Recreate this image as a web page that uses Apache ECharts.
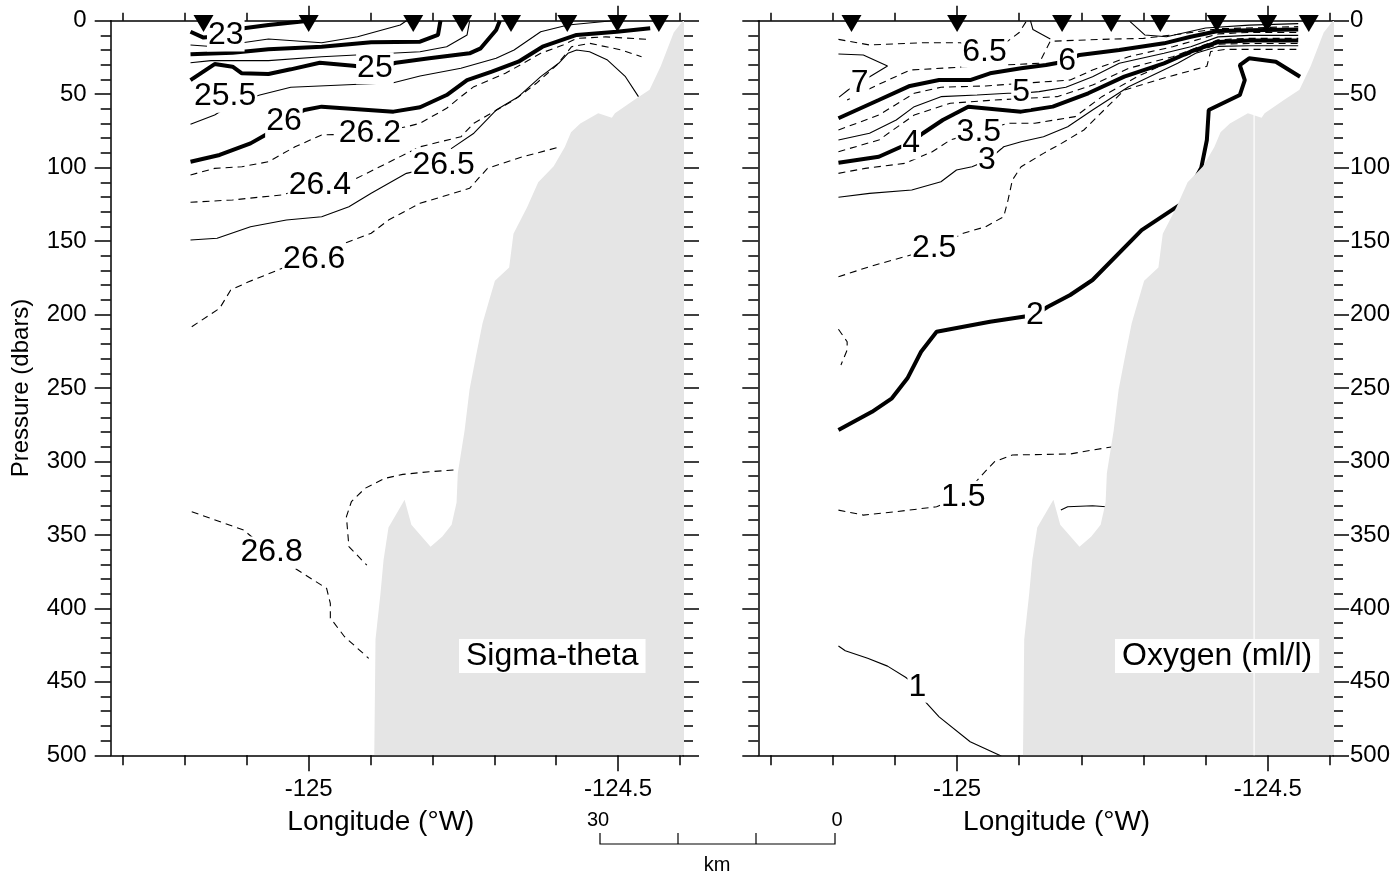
<!DOCTYPE html>
<html><head><meta charset="utf-8">
<script src="https://cdn.jsdelivr.net/npm/echarts@6/dist/echarts.min.js"></script>
<style>html,body{margin:0;padding:0;background:#fff}#c{width:1397px;height:878px}</style>
</head><body><div id="c"></div>
<script>
const F = 'Liberation Sans, Arial, Helvetica, sans-serif';
// axis extents and tick values
const LON_MIN = -125.32, LON_MAX = -124.395;
const majorLon = [-125, -124.5];
const minorLon = [-125.3, -125.2, -125.1, -124.9, -124.8, -124.7, -124.6, -124.4];
// CTD stations (longitude)
const stations = [-125.17, -125.0, -124.831, -124.752, -124.673, -124.582, -124.501, -124.434];
// bottom topography [lon, pressure]
const bathy = [[-124.894,500],[-124.892,421],[-124.884,390],[-124.879,367],[-124.871,345],[-124.845,326],[-124.834,343],
  [-124.803,358],[-124.784,351],[-124.769,343],[-124.761,328],[-124.759,308],[-124.748,279],[-124.740,251],[-124.730,229],
  [-124.719,206],[-124.708,190],[-124.699,177],[-124.676,168],[-124.669,145],[-124.647,127],[-124.629,110],[-124.604,99],
  [-124.586,86],[-124.576,76],[-124.561,70],[-124.532,63],[-124.510,66],[-124.505,63],[-124.474,54],[-124.449,47],
  [-124.431,31],[-124.410,8],[-124.395,0]];
const bathyGap = [[-124.522,63],[-124.522,500]];

// ---- Sigma-theta contours [lon, pressure] ----
const sig23   = [[-125.191,7.5],[-125.170,11.5],[-125.134,10],[-125.105,5.2],[-125.065,2.9],[-125.015,0.7],[-125.0,0]];
const sig23_5 = [[-125.191,16.5],[-125.152,17.7],[-125.065,12.5],[-124.979,15],[-124.921,10.9],[-124.852,2.9],[-124.842,0]];
const sig24   = [[-125.191,22.9],[-125.123,21.8],[-125.065,19.5],[-124.979,17.7],[-124.899,14.7],[-124.820,14.3],[-124.791,9.7],[-124.787,0]];
const sig24_5 = [[-125.191,28.6],[-125.158,27.2],[-125.065,27.2],[-124.979,24.5],[-124.820,21.1],[-124.777,17.7],[-124.744,9.7],[-124.740,0.5]];
const sig25   = [[-125.191,40.4],[-125.152,29.5],[-125.123,31.3],[-125.108,35.8],[-125.065,36.3],[-125.029,33.1],[-124.982,28.6],
  [-124.928,30.6],[-124.895,32.4],[-124.859,28.6],[-124.805,25.6],[-124.740,22.2],[-124.722,18.8],[-124.697,6.3],[-124.691,0]];
const sig25_5 = [[-125.191,70.5],[-125.152,64.2],[-125.130,58.5],[-125.105,54],[-125.079,50.6],[-125.029,45.3],[-124.863,42.2],
  [-124.820,37.6],[-124.754,32.4],[-124.697,25.6],[-124.668,19.9],[-124.625,7.5],[-124.581,2.9],[-124.509,0]];
const sig26   = [[-125.191,96],[-125.144,91.4],[-125.094,83.5],[-125.065,76.6],[-125.044,68.7],[-125.007,60.8],[-124.979,58.5],
  [-124.863,61.9],[-124.820,58.9],[-124.777,50.6],[-124.744,40.4],[-124.704,34.7],[-124.661,27.9],[-124.622,17.7],
  [-124.567,9.7],[-124.502,7.5],[-124.448,5.2]];
const sig26_2 = [[-125.191,105],[-125.152,100.5],[-125.108,99.4],[-125.065,96],[-125.022,85.8],[-124.979,77.8],[-124.899,76.6],
  [-124.842,72.2],[-124.820,69.8],[-124.777,59.6],[-124.754,51.7],[-124.733,44.9],[-124.682,35.8],[-124.625,22.2],
  [-124.589,16.5],[-124.567,12],[-124.52,11],[-124.452,12.7]];
const sig26_4 = [[-125.191,123.6],[-125.123,122],[-125.044,118.6],[-124.982,111.8],[-124.928,108.4],[-124.820,85.8],[-124.754,79],
  [-124.733,69.8],[-124.668,54],[-124.632,42.6],[-124.599,30.2],[-124.575,17.7],[-124.546,15.4],[-124.495,19.9],[-124.462,24.5]];
const sig26_5 = [[-125.191,149.3],[-125.148,148.1],[-125.094,140.2],[-125.036,135.7],[-124.979,133.4],[-124.935,126.6],[-124.899,117.5],
  [-124.842,103.9],[-124.782,98.2],[-124.769,86.9],[-124.733,76.6],[-124.697,60.8],[-124.661,51.7],[-124.625,38.1],
  [-124.596,29],[-124.581,22.2],[-124.567,19.9],[-124.546,21.1],[-124.517,26.8],[-124.488,38.1],[-124.467,51.7]];
const sig26_6 = [[-125.189,208.3],[-125.144,195.8],[-125.126,183.3],[-125.097,177.7],[-125.036,167.4],[-124.993,162.9],[-124.950,152.7],
  [-124.899,144.7],[-124.871,135.7],[-124.820,124.3],[-124.740,114.1],[-124.711,100.5],[-124.654,92.6],[-124.593,85.8]];
const sig26_8a = [[-125.189,334.2],[-125.105,346.7],[-125.061,362.3],[-125.026,371.7],[-124.971,386.4],[-124.965,396.6],
  [-124.965,406.6],[-124.942,419.3],[-124.903,434]];
const sig26_8b = [[-124.766,305.8],[-124.805,307],[-124.848,308.8],[-124.877,311.5],[-124.909,318.3],[-124.931,327.4],
  [-124.939,337.6],[-124.935,358],[-124.906,370.6]];
const sigLabels = [['23',-125.134,10],['25',-124.893,32.4],['25.5',-125.135,51.7],['26',-125.040,68.7],['26.2',-124.901,76.6],
  ['26.4',-124.982,112],['26.5',-124.782,98.2],['26.6',-124.991,162.2],['26.8',-125.060,362]];

// ---- Oxygen contours [lon, pressure] ----
const oxy7    = [[-125.191,22.7],[-125.151,23.3],[-125.112,30.8],[-125.140,38],[-125.175,47],[-125.19,52]];
const oxy7b   = [[-124.882,0],[-124.878,6],[-124.850,12.5]];
const oxy7c   = [[-124.722,0.5],[-124.698,9.7],[-124.663,10.9],[-124.60,5],[-124.53,3],[-124.451,2]];
const oxy6_5a = [[-125.191,12.7],[-125.141,16.5],[-125.055,15],[-124.995,15],[-124.956,19],[-124.925,16],[-124.900,8],[-124.888,0]];
const oxy6_5b = [[-125.177,54],[-125.134,44.9],[-125.076,33.6],[-124.982,31.3],[-124.868,29],[-124.850,14],[-124.767,12.7],
  [-124.70,12],[-124.64,9],[-124.58,5.5],[-124.451,4]];
const oxy6    = [[-125.191,66.4],[-125.126,54],[-125.076,44.4],[-125.029,40.4],[-124.979,40.4],[-124.947,35.8],[-124.897,32.4],
  [-124.857,30.2],[-124.828,27.9],[-124.803,23.3],[-124.739,19.9],[-124.667,15.4],[-124.624,10.9],[-124.580,7],[-124.53,6.5],[-124.451,6]];
const oxy5_5  = [[-125.191,74.4],[-125.126,64.2],[-125.069,49.4],[-125.026,45.3],[-124.954,44.4],[-124.818,40.4],[-124.782,33.6],
  [-124.724,24.5],[-124.653,17.7],[-124.580,9],[-124.53,8],[-124.451,8]];
const oxy5    = [[-125.191,81.2],[-125.141,76.6],[-125.098,67.6],[-125.069,58.5],[-125.026,51.7],[-124.968,50.6],[-124.918,49.4],
  [-124.897,49.4],[-124.868,48.3],[-124.825,45.3],[-124.782,38.1],[-124.739,29],[-124.667,22.2],[-124.624,17.7],[-124.580,11],[-124.53,10],[-124.451,10]];
const oxy4_5  = [[-125.191,89.2],[-125.126,81.2],[-125.069,64.2],[-125.011,56.2],[-124.940,54],[-124.839,51.7],[-124.782,43.8],
  [-124.724,32.4],[-124.653,24.5],[-124.580,13],[-124.53,12],[-124.451,12]];
const oxy4    = [[-125.191,96.7],[-125.126,92.6],[-125.090,85.8],[-125.076,83.5],[-125.055,76.6],[-125.023,67.6],[-124.982,58.5],
  [-124.897,61.9],[-124.846,58.5],[-124.789,49.4],[-124.731,38.1],[-124.667,29],[-124.624,21.1],[-124.580,14.5],[-124.53,13.5],[-124.451,13.5]];
const oxy3_5  = [[-125.191,103.9],[-125.148,100.5],[-125.084,97.1],[-125.040,89.2],[-125.011,81.2],[-124.965,75.6],[-124.918,69.8],
  [-124.875,69.8],[-124.810,65.3],[-124.767,51.7],[-124.710,38.1],[-124.653,26.8],[-124.580,16],[-124.53,15.5],[-124.451,15.5]];
const oxy3    = [[-125.191,120.2],[-125.141,117.5],[-125.073,115.2],[-125.026,109.6],[-125.001,101.6],[-124.976,99.4],[-124.950,94.8],
  [-124.925,85.8],[-124.897,82.4],[-124.861,79],[-124.822,72.2],[-124.782,60.8],[-124.724,44.9],[-124.645,29],[-124.616,22.2],
  [-124.580,17.5],[-124.53,17],[-124.451,17]];
const oxy2_5  = [[-125.191,174.3],[-125.141,167.4],[-125.084,160.6],[-125.037,154.9],[-124.990,144.7],[-124.954,140.2],[-124.925,133.4],
  [-124.918,122],[-124.911,108.4],[-124.897,99.4],[-124.861,90.3],[-124.832,83.5],[-124.796,74.4],[-124.731,47.2],[-124.667,39],
  [-124.598,31],[-124.592,21],[-124.567,19.5],[-124.454,19.5]];
const oxy2_5b = [[-125.191,210],[-125.177,218.5],[-125.177,224.1],[-125.187,234.4]];
const oxy2    = [[-125.191,278.6],[-125.137,266.2],[-125.105,257],[-125.080,243.4],[-125.058,225.3],[-125.033,211.7],[-124.947,204.9],
  [-124.875,200.3],[-124.854,194.7],[-124.818,186.7],[-124.782,176.5],[-124.703,142.5],[-124.638,124.3],[-124.607,100],
  [-124.598,81.2],[-124.595,60.8],[-124.545,50.6],[-124.537,40.4],[-124.545,30.2],[-124.530,25.6],[-124.487,27.9],[-124.448,38.1]];
const oxy1_5  = [[-125.191,333.1],[-125.151,336.5],[-125.098,334.2],[-125.033,330.8],[-124.991,324],[-124.965,311.5],[-124.940,300.2],
  [-124.911,295.6],[-124.818,294.9],[-124.782,292.2],[-124.749,290]];
const oxy1b   = [[-124.833,333.1],[-124.822,330.8],[-124.782,330.1],[-124.760,330.8]];
const oxy1    = [[-125.191,425.6],[-125.180,428.8],[-125.144,434],[-125.112,439.3],[-125.083,446.9],[-125.063,453.3],[-125.051,463.6],
  [-125.029,473.8],[-124.979,490.8],[-124.929,500.5]];
const oxyLabels = [['6.5',-124.956,21.1],['6',-124.823,27.4],['7',-125.157,42.6],['5',-124.897,48.9],['4',-125.074,83.5],
  ['3.5',-124.965,75.6],['3',-124.952,94.8],['2.5',-125.037,154.9],['2',-124.875,200.3],['1.5',-124.990,324],['1',-125.064,453.3]];

const THICK = {color:'#000', width:4};
const THIN = {color:'#000', width:1.1};
const DASH = {color:'#000', width:1.1, type:[7,5]};

const sigLines = [[sig23,THICK],[sig23_5,THIN],[sig24,THICK],[sig24_5,THIN],[sig25,THICK],[sig25_5,THIN],[sig26,THICK],
  [sig26_2,DASH],[sig26_4,DASH],[sig26_5,THIN],[sig26_6,DASH],[sig26_8a,DASH],[sig26_8b,DASH]];
const oxyLines = [[oxy7,THIN],[oxy7b,THIN],[oxy7c,THIN],[oxy6_5a,DASH],[oxy6_5b,DASH],[oxy6,THICK],[oxy5_5,DASH],[oxy5,THIN],[oxy4_5,DASH],[oxy4,THICK],
  [oxy3_5,DASH],[oxy3,THIN],[oxy2_5,DASH],[oxy2_5b,DASH],[oxy2,THICK],[oxy1_5,DASH],[oxy1b,THIN],[oxy1,THIN]];

const TICK = {color:'#000', width:1.5};
function xAxes(g) {
  const base = {type:'value', gridIndex:g, min:LON_MIN, max:LON_MAX, splitLine:{show:false},
    axisLine:{onZero:false, lineStyle:{color:'#000', width:1.5}}};
  return [
    Object.assign({}, base, {position:'bottom',
      axisTick:{customValues:majorLon, length:16, lineStyle:TICK},
      axisLabel:{customValues:majorLon, formatter:v => String(v), fontSize:24, color:'#000', margin:22, fontFamily:F},
      name:'Longitude (°W)', nameLocation:'middle', nameGap:53,
      nameTextStyle:{fontSize:28, color:'#000', fontFamily:F, padding: g === 0 ? [0,32,0,0] : [0,0,0,22]}}),
    Object.assign({}, base, {position:'bottom', axisLine:{show:false, onZero:false},
      axisTick:{customValues:minorLon, length:10, lineStyle:TICK}, axisLabel:{show:false}}),
    Object.assign({}, base, {position:'top',
      axisTick:{customValues:majorLon, length:15, lineStyle:TICK}, axisLabel:{show:false}}),
    Object.assign({}, base, {position:'top', axisLine:{show:false, onZero:false},
      axisTick:{customValues:minorLon, length:8, lineStyle:TICK}, axisLabel:{show:false}})
  ];
}
function yAxes(g) {
  const base = {type:'value', gridIndex:g, min:0, max:500, interval:50, inverse:true, splitLine:{show:false},
    axisLine:{onZero:false, lineStyle:{color:'#000', width:1.5}},
    axisTick:{length:16, lineStyle:TICK},
    minorTick:{show:true, splitNumber:5, length:10, lineStyle:TICK}};
  return [
    Object.assign({}, base, {position:'left',
      axisLabel:{show:g === 0, fontSize:24, color:'#000', margin:24, fontFamily:F},
      name: g === 0 ? 'Pressure (dbars)' : '', nameLocation:'middle', nameGap:77,
      nameTextStyle:{fontSize:24, color:'#000', fontFamily:F}}),
    Object.assign({}, base, {position:'right',
      axisLabel:{show:g === 1, fontSize:24, color:'#000', margin:17, fontFamily:F}})
  ];
}

const series = [];
function addPanel(g, lines, labels) {
  const xi = g * 4, yi = g * 2;
  lines.forEach(([d, st]) => series.push({type:'line', xAxisIndex:xi, yAxisIndex:yi, data:d, showSymbol:false,
    symbol:'none', lineStyle:st, z:2, silent:true}));
  series.push({type:'custom', xAxisIndex:xi, yAxisIndex:yi, z:3, silent:true, clip:true,
    data:[[bathy[0][0], bathy[0][1]]],
    renderItem:(params, api) => {
      const pts = bathy.map(p => api.coord(p));
      pts.push(api.coord([LON_MAX + 0.01, 0]));
      pts.push(api.coord([LON_MAX + 0.01, 500]));
      pts.push(api.coord([bathy[0][0], 500]));
      return {type:'polygon', shape:{points:pts}, style:{fill:'#e5e5e5', stroke:null}};
    }});
  if (g === 1) series.push({type:'line', xAxisIndex:xi, yAxisIndex:yi, data:bathyGap, showSymbol:false, symbol:'none',
    lineStyle:{color:'#fff', width:1.2}, z:4, silent:true});
  series.push({type:'scatter', xAxisIndex:xi, yAxisIndex:yi, z:5, silent:true, symbolSize:1,
    itemStyle:{color:'#fff', opacity:1},
    data:labels.map(l => ({value:[l[1], l[2]], name:l[0]})),
    label:{show:true, position:'inside', formatter:'{b}', fontSize:32, color:'#000', fontFamily:F,
      backgroundColor:'#fff', padding:[0,1], textBorderWidth:0, opacity:1}});
  series.push({type:'scatter', xAxisIndex:xi, yAxisIndex:yi, z:6, silent:true, clip:false,
    symbol:'triangle', symbolRotate:180, symbolSize:[20,17], itemStyle:{color:'#000', opacity:1},
    data:stations.map(s => [s, 1.9])});
}
addPanel(0, sigLines, sigLabels);
addPanel(1, oxyLines, oxyLabels);

const chart = echarts.init(document.getElementById('c'), null, {renderer:'canvas'});
chart.setOption({
  animation:false,
  backgroundColor:'#fff',
  grid:[{left:110.7, top:20.7, width:572.3, height:734.6}, {left:758.3, top:20.7, width:574.7, height:734.6}],
  xAxis:[...xAxes(0), ...xAxes(1)],
  yAxis:[...yAxes(0), ...yAxes(1)],
  series,
  graphic:[
    {type:'text', left:459, top:639, z:10, style:{text:'Sigma-theta', fontSize:32, fontFamily:F, fill:'#000',
      backgroundColor:'#fff', padding:[1,7,1,7]}},
    {type:'text', left:1115, top:639, z:10, style:{text:'Oxygen (ml/l)', fontSize:32, fontFamily:F, fill:'#000',
      backgroundColor:'#fff', padding:[1,7,1,7]}},
    {type:'polyline', z:10, shape:{points:[[600,833],[600,844],[835,844],[835,833]]}, style:{stroke:'#000', lineWidth:1.2, fill:null}},
    {type:'line', z:10, shape:{x1:678,y1:833,x2:678,y2:844}, style:{stroke:'#000', lineWidth:1.2}},
    {type:'line', z:10, shape:{x1:756,y1:833,x2:756,y2:844}, style:{stroke:'#000', lineWidth:1.2}},
    {type:'text', x:598, y:820, z:10, style:{text:'30', fontSize:20, fontFamily:F, fill:'#000', align:'center', verticalAlign:'middle'}},
    {type:'text', x:837, y:820, z:10, style:{text:'0', fontSize:20, fontFamily:F, fill:'#000', align:'center', verticalAlign:'middle'}},
    {type:'text', x:717, y:865, z:10, style:{text:'km', fontSize:20, fontFamily:F, fill:'#000', align:'center', verticalAlign:'middle'}}
  ]
});
</script></body></html>
